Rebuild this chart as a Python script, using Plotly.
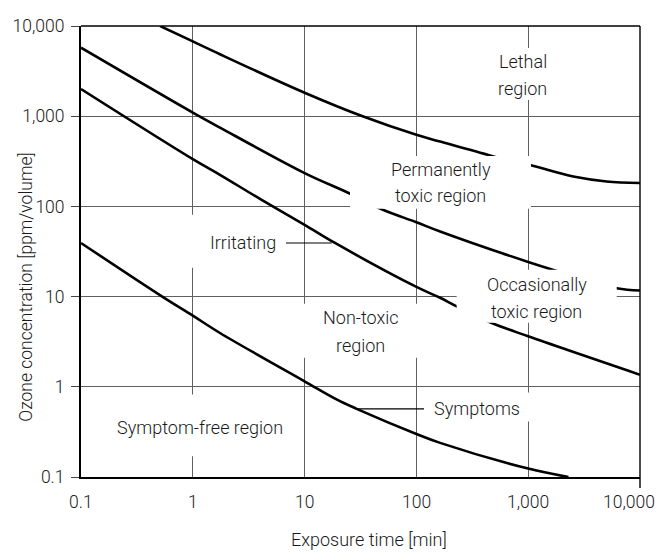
import math
import plotly.graph_objects as go

# ---------------- data ----------------
time_ticks = [0.1, 1, 10, 100, 1000, 10000]
time_labels = ["0.1", "1", "10", "100", "1,000", "10,000"]
conc_ticks = [0.1, 1, 10, 100, 1000, 10000]
conc_labels = ["0.1", "1", "10", "100", "1,000", "10,000"]

# boundary: lethal region
lethal_t = [0.51, 1, 1.75, 10, 33.5, 100, 163, 472, 1075, 2530, 5030, 10000]
lethal_c = [10000, 6750, 4860, 1820, 990, 621, 523, 363, 284, 214, 189, 182]

# boundary: permanently / occasionally toxic
toxic_t = [0.1, 1, 1.75, 10, 25, 49, 100, 163, 1000, 1740, 6190, 10000]
toxic_c = [5750, 1097, 748, 234, 140, 93, 66.7, 52.7, 24.2, 19.5, 12.4, 11.7]

# boundary: irritating
irrit_t = [0.1, 1, 1.75, 4.13, 10, 18.7, 100, 163, 229, 472, 1000, 10000]
irrit_c = [2000, 334, 224, 118, 62.5, 39.3, 12.8, 9.7, 7.8, 5.1, 3.63, 1.36]

# boundary: symptoms
sympt_t = [0.1, 0.533, 1, 1.75, 10, 19.5, 29.2, 100, 163, 1000, 2290]
sympt_c = [39.3, 10, 6.15, 3.95, 1.15, 0.72, 0.57, 0.30, 0.239, 0.124, 0.1]

# region labels: (text, log10 time, log10 conc)
region_labels = [
    ("Lethal", 2.953, 3.601), ("region", 2.953, 3.310),
    ("Permanently", 2.217, 2.405), ("toxic region", 2.217, 2.117),
    ("Occasionally", 3.076, 1.132), ("toxic region", 3.076, 0.836),
    ("Non-toxic", 1.504, 0.763), ("region", 1.504, 0.460),
    ("Irritating", 0.445, 1.597),
    ("Symptom-free region", 0.064, -0.452),
    ("Symptoms", 2.538, -0.241),
]
# white label backgrounds: (log t0, log t1, log c0, log c1)
label_boxes = [
    (2.658, 3.249, 3.180, 3.756),
    (1.406, 3.025, 1.973, 2.560),
    (2.360, 3.792, 0.711, 1.298),
    (0.968, 2.041, 0.323, 0.921),
    (-0.025, 0.816, 1.320, 1.907),
    (-0.723, 0.869, -0.770, -0.086),
    (2.122, 3.070, -0.385, -0.064),
]
# leader lines: (log t0, log t1, log c)
leaders = [
    (0.834, 1.242, 1.594),
    (1.466, 2.068, -0.245),
]

FONT = "Roboto"
TXT = "#1a1a1a"
XMIN, XMAX = -1, 4
YMIN, YMAX = -1, 4
PLOT_W, PLOT_H = 559, 451.5


def px(l):
    return (l - XMIN) / (XMAX - XMIN)


def py(l):
    return (l - YMIN) / (YMAX - YMIN)


fig = go.Figure()
for t, c in [(lethal_t, lethal_c), (toxic_t, toxic_c), (irrit_t, irrit_c), (sympt_t, sympt_c)]:
    fig.add_trace(go.Scatter(x=t, y=c, mode="lines",
                             line=dict(color="black", width=2.6, shape="spline", smoothing=1.0),
                             hoverinfo="skip", showlegend=False))

shapes = []
for x0, x1, y0, y1 in label_boxes:
    shapes.append(dict(type="rect", xref="paper", yref="paper", x0=px(x0), x1=px(x1), y0=py(y0), y1=py(y1),
                       fillcolor="white", line=dict(width=0), layer="above"))
for x0, x1, y in leaders:
    shapes.append(dict(type="line", xref="paper", yref="paper", x0=px(x0), x1=px(x1), y0=py(y), y1=py(y),
                       line=dict(color="black", width=1.2), layer="above"))
# top and right frame lines
shapes.append(dict(type="line", xref="paper", yref="paper", x0=0, x1=1, y0=1, y1=1,
                   line=dict(color="black", width=1.4), layer="above"))
shapes.append(dict(type="line", xref="paper", yref="paper", x0=1, x1=1, y0=-11 / PLOT_H, y1=1,
                   line=dict(color="black", width=1.4), layer="above"))

lab_font = dict(family=FONT, size=18, color=TXT, weight=300)
tick_font = dict(family=FONT, size=17.5, color=TXT, weight=300)
annotations = []
for text, lx, ly in region_labels:
    annotations.append(dict(text=text, x=lx, y=ly, xref="x", yref="y", showarrow=False,
                            xanchor="center", yanchor="middle", font=lab_font))
# x tick labels (last one kept inside the page edge)
for i, (tv, tl) in enumerate(zip(time_ticks, time_labels)):
    last = i == len(time_ticks) - 1
    annotations.append(dict(text=tl, x=(1 + 17 / PLOT_W) if last else px(math.log10(tv)),
                            y=-25.5 / PLOT_H, xref="paper", yref="paper", showarrow=False,
                            xanchor="right" if last else "center", yanchor="middle", font=tick_font))
annotations.append(dict(text="Exposure time [min]", x=(369 - 81) / PLOT_W, y=(477.5 - 540) / PLOT_H,
                        xref="paper", yref="paper", showarrow=False, xanchor="center", yanchor="middle",
                        font=dict(family=FONT, size=18, color=TXT, weight=300)))
annotations.append(dict(text="Ozone concentration [ppm/volume]", x=(26 - 81) / PLOT_W, y=(477.5 - 288) / PLOT_H,
                        xref="paper", yref="paper", showarrow=False, xanchor="center", yanchor="middle",
                        textangle=-90, font=dict(family=FONT, size=17.5, color=TXT, weight=300)))

fig.update_layout(
    width=650, height=546,
    margin=dict(l=73, r=18, t=18, b=76.5),
    paper_bgcolor="white", plot_bgcolor="white",
    shapes=shapes, annotations=annotations,
    xaxis=dict(type="log", range=[XMIN, XMAX], tickvals=time_ticks, showticklabels=False, automargin=False,
               showgrid=True, gridcolor="#606060", gridwidth=1, showline=True, linecolor="black", linewidth=2,
               ticks="", zeroline=False),
    yaxis=dict(type="log", range=[YMIN, YMAX], tickvals=conc_ticks, ticktext=conc_labels, automargin=False,
               showgrid=True, gridcolor="#606060", gridwidth=1, showline=True, linecolor="black", linewidth=2,
               ticks="outside", ticklen=8, tickcolor="#444", tickwidth=1, ticklabelstandoff=3,
               tickfont=tick_font, zeroline=False),
)

fig.write_html("out.html")
